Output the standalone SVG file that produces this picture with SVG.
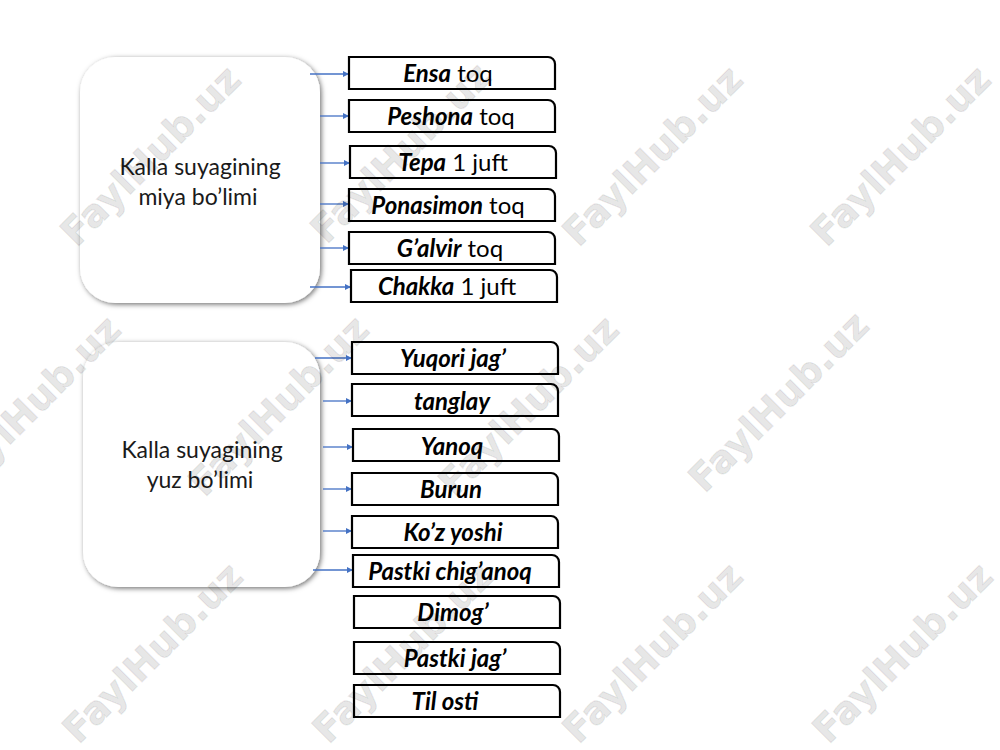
<svg xmlns="http://www.w3.org/2000/svg" xmlns:xlink="http://www.w3.org/1999/xlink" width="1000" height="750" viewBox="0 0 1000 750">
<defs>
<style>
.big{fill:#fff;filter:url(#sh)}
.bt{font-family:Lato,"Liberation Sans",sans-serif;font-size:23px;fill:#1a1a1a;text-anchor:middle}
.sb{fill:#fff;stroke:#000;stroke-width:2.2}
.st{font-family:Lato,"Liberation Sans",sans-serif;font-size:24px;fill:#000;text-anchor:middle}
.bi{font-weight:bold;font-style:italic}
.cn line{stroke:#4472C4;stroke-width:1.3;marker-end:url(#ah)}
.wm{font-family:"DejaVu Sans","Liberation Sans",sans-serif;font-weight:bold;font-size:38px;fill:#000;fill-opacity:0.1;stroke:#000;stroke-opacity:0.08;stroke-width:1.4;text-anchor:middle}
</style>
<filter id="sh" x="-10%" y="-10%" width="125%" height="125%">
<feDropShadow dx="1.5" dy="1.5" stdDeviation="2.5" flood-color="#000" flood-opacity="0.55"/>
</filter>
<marker id="ah" viewBox="0 0 10 10" refX="10" refY="5" markerWidth="7" markerHeight="6" markerUnits="userSpaceOnUse" orient="auto">
<path d="M0,0 L10,5 L0,10 Z" fill="#4472C4"/>
</marker>
<path id="box" d="M0,0 H199 A7,7 0 0 1 206,7 V32 H0 Z"/>
</defs>
<rect width="1000" height="750" fill="#fff"/>

<g id="miya">
<rect class="big" x="80" y="57" width="240" height="246" rx="35"/>
<text class="bt" x="200" y="175">Kalla suyagining</text>
<text class="bt" x="198" y="205">miya bo’limi</text>
</g>
<g id="yuz">
<rect class="big" x="83" y="342" width="237" height="245" rx="35"/>
<text class="bt" x="202" y="458">Kalla suyagining</text>
<text class="bt" x="200" y="488">yuz bo’limi</text>
</g>

<g id="connectors" class="cn">
<line x1="310" y1="74" x2="349" y2="74"/>
<line x1="320" y1="116" x2="349" y2="116"/>
<line x1="320" y1="163" x2="350" y2="163"/>
<line x1="320" y1="204" x2="349" y2="204"/>
<line x1="320" y1="248" x2="349" y2="248"/>
<line x1="310" y1="287" x2="351" y2="287"/>
<line x1="315" y1="358" x2="352" y2="358"/>
<line x1="323" y1="401" x2="352" y2="401"/>
<line x1="323" y1="447" x2="353" y2="447"/>
<line x1="323" y1="489" x2="352" y2="489"/>
<line x1="323" y1="531" x2="352" y2="531"/>
<line x1="313" y1="570" x2="353" y2="570"/>
</g>

<g id="ensa"><use href="#box" class="sb" x="349" y="57"/><text class="st" x="448" y="82"><tspan class="bi">Ensa</tspan> toq</text></g>
<g id="peshona"><use href="#box" class="sb" x="349" y="100"/><text class="st" x="451" y="125"><tspan class="bi">Peshona</tspan> toq</text></g>
<g id="tepa"><use href="#box" class="sb" x="350" y="146"/><text class="st" x="453" y="171"><tspan class="bi">Tepa</tspan> 1 juft</text></g>
<g id="ponasimon"><use href="#box" class="sb" x="349" y="189"/><text class="st" x="448" y="214"><tspan class="bi">Ponasimon</tspan> toq</text></g>
<g id="galvir"><use href="#box" class="sb" x="349" y="232"/><text class="st" x="450" y="257"><tspan class="bi">G’alvir</tspan> toq</text></g>
<g id="chakka"><use href="#box" class="sb" x="351" y="270"/><text class="st" x="447" y="295"><tspan class="bi">Chakka</tspan> 1 juft</text></g>

<g id="yuqori"><use href="#box" class="sb" x="352" y="342"/><text class="st bi" x="453" y="367">Yuqori jag’</text></g>
<g id="tanglay"><use href="#box" class="sb" x="352" y="384"/><text class="st bi" x="452" y="410">tanglay</text></g>
<g id="yanoq"><use href="#box" class="sb" x="353" y="429"/><text class="st bi" x="452" y="455">Yanoq</text></g>
<g id="burun"><use href="#box" class="sb" x="352" y="473"/><text class="st bi" x="451" y="498">Burun</text></g>
<g id="kozyoshi"><use href="#box" class="sb" x="352" y="516"/><text class="st bi" x="453" y="541">Ko’z yoshi</text></g>
<g id="pastkichiganoq"><use href="#box" class="sb" x="353" y="555"/><text class="st bi" x="450" y="580">Pastki chig’anoq</text></g>
<g id="dimog"><use href="#box" class="sb" x="354" y="596"/><text class="st bi" x="453" y="621">Dimog’</text></g>
<g id="pastkijag"><use href="#box" class="sb" x="354" y="642"/><text class="st bi" x="455" y="667">Pastki jag’</text></g>
<g id="tilosti"><use href="#box" class="sb" x="354" y="685"/><text class="st bi" x="445" y="710">Til osti</text></g>

<g id="watermarks" class="wm">
<text transform="translate(150,155) rotate(-45)" y="14">FaylHub.uz</text>
<text transform="translate(400,152) rotate(-45)" y="14">FaylHub.uz</text>
<text transform="translate(652,155) rotate(-45)" y="14">FaylHub.uz</text>
<text transform="translate(900,155) rotate(-45)" y="14">FaylHub.uz</text>
<text transform="translate(30,405) rotate(-45)" y="14">FaylHub.uz</text>
<text transform="translate(278,405) rotate(-45)" y="14">FaylHub.uz</text>
<text transform="translate(528,405) rotate(-45)" y="14">FaylHub.uz</text>
<text transform="translate(778,401) rotate(-45)" y="14">FaylHub.uz</text>
<text transform="translate(152,652) rotate(-45)" y="14">FaylHub.uz</text>
<text transform="translate(402,652) rotate(-45)" y="14">FaylHub.uz</text>
<text transform="translate(652,652) rotate(-45)" y="14">FaylHub.uz</text>
<text transform="translate(902,652) rotate(-45)" y="14">FaylHub.uz</text>
</g>
</svg>
